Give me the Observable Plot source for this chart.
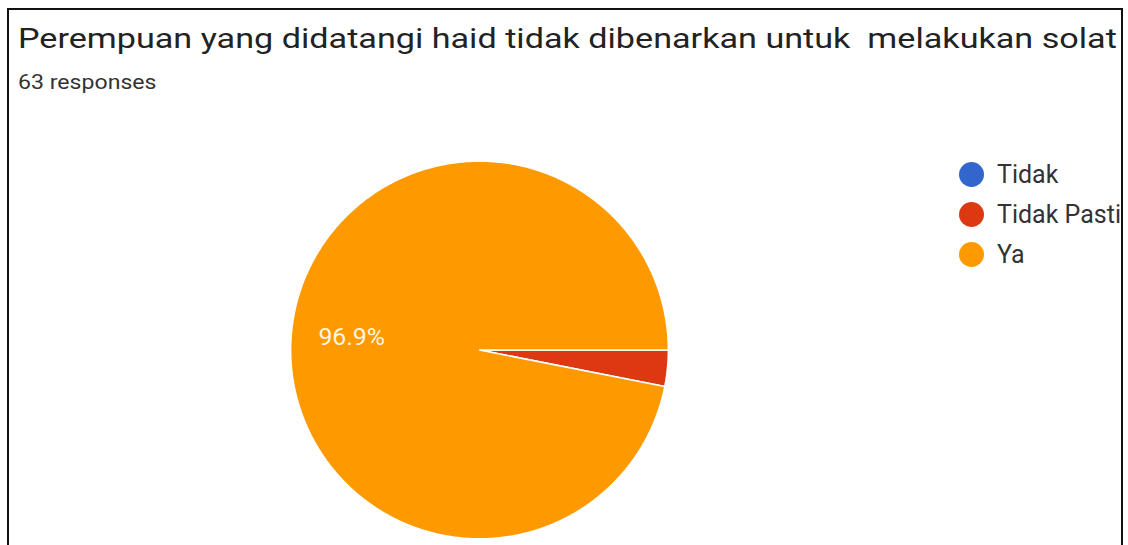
<!DOCTYPE html>
<html><head><meta charset="utf-8">
<script src="https://cdn.jsdelivr.net/npm/d3@7"></script>
<script src="https://cdn.jsdelivr.net/npm/@observablehq/plot@0.6"></script>
<style>
html,body{margin:0;padding:0;background:#fff;width:1128px;height:545px;overflow:hidden;font-family:Roboto,"Noto Sans",sans-serif;}
#frame{position:absolute;left:7px;top:8px;width:1112px;height:600px;border:2px solid #111;border-bottom:none;pointer-events:none;}
#title{position:absolute;left:18px;top:25px;font-size:28px;line-height:28px;color:#222;white-space:pre;transform:scaleX(1.22);transform-origin:0 0;}
#sub{position:absolute;left:18px;top:72px;font-size:21px;line-height:21px;color:#333;white-space:pre;transform:scaleX(1.1);transform-origin:0 0;}
#chart{position:absolute;left:0;top:110px;}
#legend{position:absolute;left:0;top:0;}
.li{position:absolute;left:959px;height:28px;line-height:28px;font-size:25px;color:#333;white-space:nowrap;}
.sw{display:inline-block;width:25px;height:25px;border-radius:50%;vertical-align:middle;margin-right:13px;position:relative;top:-2px;}
#clip{position:absolute;left:0;top:0;width:1121px;height:545px;overflow:hidden;}
</style></head>
<body>
<div id="clip">
<div id="title"></div>
<div id="sub"></div>
<div id="chart"></div>
<div id="legend"></div>
</div>
<div id="frame"></div>
<script>
const titleText = "Perempuan yang didatangi haid tidak dibenarkan untuk  melakukan solat";
const subtitleText = "63 responses";
const categories = ["Tidak", "Tidak Pasti", "Ya"];
const percents = [0, 3.1, 96.9];
const colors = ["#3366cc", "#dc3912", "#ff9900"];
const startAngleDeg = 90;

document.getElementById("title").textContent = titleText;
document.getElementById("sub").textContent = subtitleText;

// build slices
const total = d3.sum(percents);
const pts = [];
const labels = [];
let a0 = startAngleDeg * Math.PI / 180;
categories.forEach((c, i) => {
  const v = percents[i];
  if (v <= 0) return;
  const span = v / total * 2 * Math.PI;
  const a1 = a0 + span;
  pts.push({cat: c, x: 0, y: 0});
  const n = Math.max(2, Math.ceil(span / 0.01));
  for (let k = 0; k <= n; k++) {
    const a = a0 + span * k / n;
    pts.push({cat: c, x: Math.sin(a), y: Math.cos(a)});
  }
  if (v / total > 0.05) {
    const am = (a0 + a1) / 2;
    labels.push({x: 0.68 * Math.sin(am), y: 0.68 * Math.cos(am), text: v.toFixed(1) + "%"});
  }
  a0 = a1;
});

const plot = Plot.plot({
  width: 1128, height: 435,
  marginLeft: 292, marginRight: 456, marginTop: 51, marginBottom: 4,
  x: {domain: [-1, 1], axis: null},
  y: {domain: [-1, 1], axis: null},
  color: {domain: categories, range: colors},
  style: {background: "transparent", overflow: "visible"},
  marks: [
    Plot.line(pts, {x: "x", y: "y", z: "cat", fill: "cat", stroke: "white", strokeWidth: 1.5, curve: "linear-closed"}),
    Plot.text(labels, {x: "x", y: "y", text: "text", fill: "#fff6e4", fontSize: 25, fontFamily: "Roboto", textAnchor: "middle"})
  ]
});
document.getElementById("chart").appendChild(plot);

// legend
const lg = document.getElementById("legend");
categories.forEach((c, i) => {
  const d = document.createElement("div");
  d.className = "li";
  d.style.top = (175 + 40 * i - 14) + "px";
  const s = document.createElement("span");
  s.className = "sw";
  s.style.background = colors[i];
  d.appendChild(s);
  d.appendChild(document.createTextNode(c));
  lg.appendChild(d);
});
</script>
</body></html>
